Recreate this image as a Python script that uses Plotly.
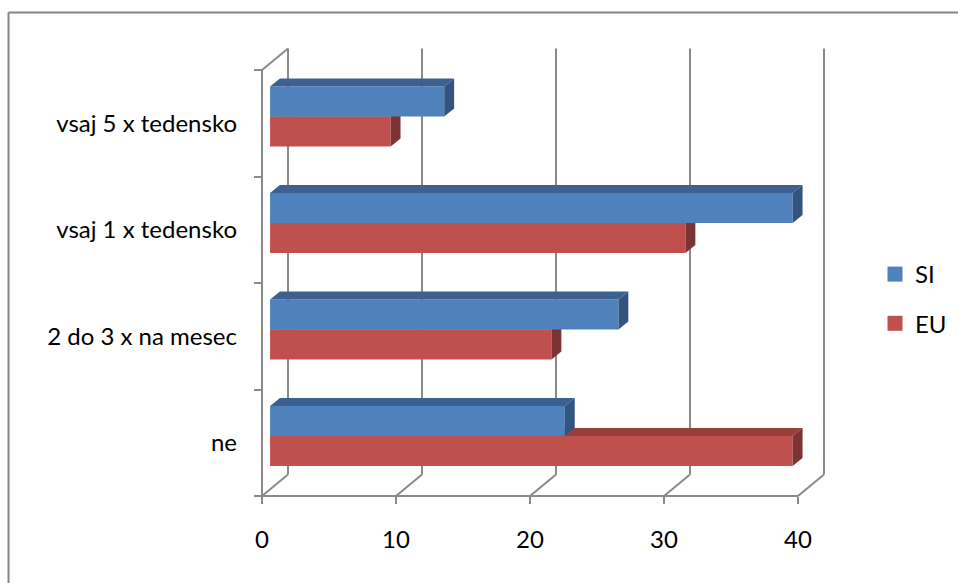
import plotly.graph_objects as go

# ---- data ----
categories = ["ne", "2 do 3 x na mesec", "vsaj 1 x tedensko", "vsaj 5 x tedensko"]
si_values = [22, 26, 39, 13]
eu_values = [39, 21, 31, 9]
x_ticks = [0, 10, 20, 30, 40]
series_names = ["SI", "EU"]

# ---- style / geometry ----
W, H = 958, 583
PX_X = 13.4          # px per x unit
PX_Y = 106.5         # px per category
X0_PX, FLOOR_PX = 262, 496
DX = 26 / PX_X       # depth offset in x units
DY = 21.5 / PX_Y     # depth offset in y units
F0, F1 = 0.31, 0.69  # bar depth fractions
BW = 0.282           # bar thickness (category units)
GRID = "#898989"
FONT = "Lato"
FS = 24

COL = {
    "SI": dict(front="#4F81BD", top="#3C6190", side="#32557F"),
    "EU": dict(front="#C0504D", top="#993E3B", side="#7D3331"),
}

xr = [-X0_PX / PX_X, (W - X0_PX) / PX_X]
yr = [-0.5 - (H - FLOOR_PX) / PX_Y, -0.5 + FLOOR_PX / PX_Y]
ncat = len(categories)
xmax = x_ticks[-1]

fig = go.Figure()

def line(xs, ys):
    fig.add_trace(go.Scatter(x=xs, y=ys, mode="lines", line=dict(color=GRID, width=2),
                             hoverinfo="skip", showlegend=False))

def poly(xs, ys, color):
    fig.add_trace(go.Scatter(x=xs + [xs[0]], y=ys + [ys[0]], mode="lines", fill="toself",
                             fillcolor=color, line=dict(width=0, color=color),
                             hoverinfo="skip", showlegend=False))

# walls / floor
ybot, ytop = -0.5, ncat - 0.5
for k in x_ticks:
    line([k + DX, k + DX], [ybot + DY, ytop + DY])   # back wall gridlines
    line([k, k + DX], [ybot, ybot + DY])             # floor diagonals
line([0, xmax], [ybot, ybot])                        # floor front edge
line([0, 0], [ybot, ytop])                           # side wall front edge
line([0, DX], [ytop, ytop + DY])                     # side wall top edge

# bars
o0, o1 = F0 * DX, F1 * DX
d0, d1 = F0 * DY, F1 * DY
for i in range(ncat):
    c = i + d0
    for name, vals, yb in (("EU", eu_values, c - BW), ("SI", si_values, c)):
        v = vals[i]
        yt = yb + BW
        col = COL[name]
        poly([o0, v + o0, v + o0, o0], [yb, yb, yt, yt], col["front"])
        poly([o0, o1, v + o1, v + o0], [yt, yt + (d1 - d0), yt + (d1 - d0), yt], col["top"])
        poly([v + o0, v + o1, v + o1, v + o0], [yb, yb + (d1 - d0), yt + (d1 - d0), yt], col["side"])

# legend entries
for name in series_names:
    fig.add_trace(go.Scatter(x=[None], y=[None], mode="markers", name=name,
                             marker=dict(symbol="square", size=15, color=COL[name]["front"]),
                             legendgroup=name))

fig.update_layout(
    width=W, height=H,
    margin=dict(l=0, r=0, t=0, b=0),
    paper_bgcolor="white", plot_bgcolor="white",
    font=dict(family=FONT, size=FS, color="#000000"),
    showlegend=True,
    legend=dict(x=875 / W, y=1 - 252 / H, xanchor="left", yanchor="top",
                font=dict(size=FS), tracegroupgap=15, traceorder="grouped",
                itemwidth=30, bgcolor="rgba(0,0,0,0)"),
    xaxis=dict(range=xr, domain=[0, 1], anchor="free", position=(H - FLOOR_PX) / H,
               tickmode="array", tickvals=x_ticks, ticks="outside", ticklen=7,
               tickwidth=2, tickcolor=GRID, showline=False, showgrid=False,
               zeroline=False, ticklabelstandoff=15, fixedrange=True),
    yaxis=dict(range=yr, domain=[0, 1], anchor="free", position=X0_PX / W,
               tickmode="array", tickvals=list(range(ncat)), ticktext=categories,
               ticks="", showline=False, showgrid=False, zeroline=False,
               ticklabelstandoff=25, fixedrange=True,
               minor=dict(tickmode="array", tickvals=[k - 0.5 for k in range(ncat + 1)],
                          ticks="outside", ticklen=8, tickwidth=2, tickcolor=GRID,
                          showgrid=False)),
    shapes=[
        dict(type="line", xref="paper", yref="paper", x0=8.5 / W, x1=1.01,
             y0=1 - 12.5 / H, y1=1 - 12.5 / H, line=dict(color="#868686", width=2)),
        dict(type="line", xref="paper", yref="paper", x0=8.5 / W, x1=8.5 / W,
             y0=1 - 12.5 / H, y1=-0.01, line=dict(color="#868686", width=2)),
    ],
)

fig.write_html("out.html")
